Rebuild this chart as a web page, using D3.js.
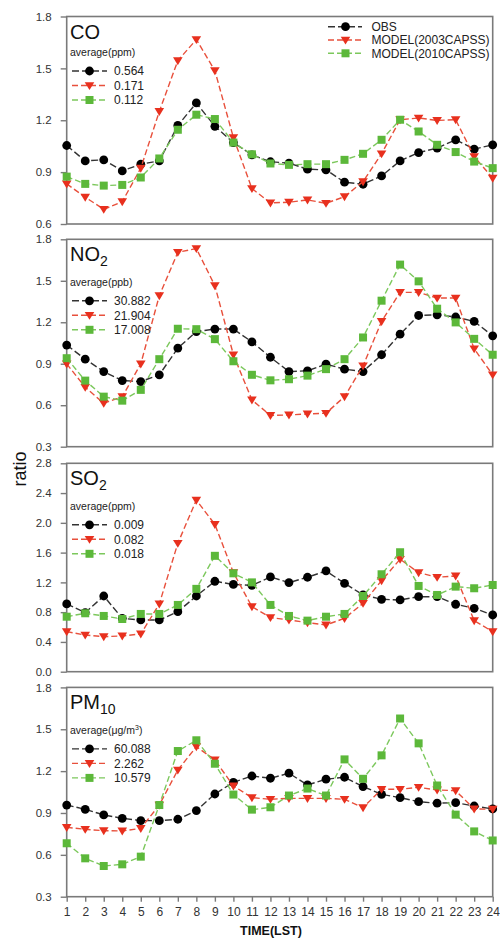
<!DOCTYPE html>
<html>
<head>
<meta charset="utf-8">
<script src="https://cdn.jsdelivr.net/npm/d3@7"></script>
<style>
  html, body { margin: 0; padding: 0; background: #fff; }
  svg { display: block; font-family: Arial, "Liberation Sans", sans-serif; }
</style>
</head>
<body>
<svg id="chart" width="500" height="946"></svg>
<script>
// Hour of day (local standard time)
const hours = d3.range(1, 25);
const xTickLabels = hours.map(String);

// Series names shown in the shared legend
const seriesNames = ["OBS", "MODEL(2003CAPSS)", "MODEL(2010CAPSS)"];

// CO ratios
const coObs  = [1.054,0.965,0.971,0.907,0.946,0.965,1.170,1.300,1.165,1.071,1.000,0.960,0.952,0.917,0.913,0.842,0.830,0.878,0.965,1.013,1.039,1.087,1.033,1.058];
const co2003 = [0.832,0.755,0.685,0.729,0.923,1.251,1.545,1.667,1.487,1.100,0.805,0.722,0.726,0.739,0.720,0.758,0.845,1.006,1.203,1.213,1.199,1.203,0.990,0.865];
const co2010 = [0.874,0.832,0.822,0.826,0.869,0.979,1.145,1.232,1.207,1.071,1.003,0.950,0.942,0.946,0.946,0.971,1.006,1.087,1.203,1.135,1.058,1.016,0.961,0.923];
const coAvg  = ["0.564", "0.171", "0.112"];

// NO2 ratios
const no2Obs  = [1.035,0.933,0.843,0.778,0.771,0.820,1.013,1.133,1.151,1.151,1.058,0.947,0.843,0.849,0.897,0.861,0.843,0.965,1.114,1.249,1.254,1.238,1.206,1.102];
const no22003 = [0.899,0.730,0.614,0.662,0.899,1.392,1.706,1.733,1.465,0.965,0.638,0.526,0.530,0.537,0.542,0.662,0.885,1.206,1.416,1.416,1.375,1.375,1.008,0.820];
const no22010 = [0.940,0.778,0.662,0.633,0.711,0.933,1.153,1.150,1.078,0.918,0.820,0.780,0.788,0.814,0.861,0.933,1.090,1.356,1.617,1.496,1.298,1.199,1.080,0.965];
const no2Avg  = ["30.882", "21.904", "17.008"];

// SO2 ratios
const so2Obs  = [0.910,0.793,1.017,0.717,0.695,0.695,0.806,1.017,1.215,1.172,1.160,1.273,1.197,1.269,1.354,1.188,1.031,0.973,0.964,1.008,1.008,0.906,0.852,0.762];
const so22003 = [0.538,0.493,0.470,0.480,0.507,0.910,1.726,2.305,1.980,1.330,0.874,0.728,0.695,0.659,0.628,0.717,0.919,1.223,1.511,1.331,1.269,1.286,0.686,0.538];
const so22010 = [0.739,0.785,0.749,0.708,0.776,0.776,0.897,1.113,1.557,1.322,1.200,0.897,0.749,0.686,0.739,0.776,1.017,1.309,1.605,1.152,1.031,1.143,1.121,1.165];
const so2Avg  = ["0.009", "0.082", "0.018"];

// PM10 ratios
const pmObs  = [0.957,0.926,0.886,0.862,0.845,0.845,0.855,0.917,1.036,1.120,1.165,1.149,1.185,1.101,1.142,1.156,1.089,1.034,1.010,0.981,0.970,0.974,0.950,0.929];
const pm2003 = [0.797,0.783,0.773,0.771,0.790,0.957,1.208,1.375,1.280,1.094,1.010,0.998,1.005,1.005,1.005,0.998,0.938,1.070,1.070,1.084,1.065,1.060,0.929,0.927];
const pm2010 = [0.683,0.575,0.520,0.532,0.587,0.957,1.344,1.421,1.253,1.032,0.924,0.941,1.025,1.075,1.025,1.284,1.145,1.313,1.577,1.399,1.097,0.888,0.768,0.703];
const pmAvg  = ["60.088", "2.262", "10.579"];

// Y tick values per panel
const coTicks  = [0.6, 0.9, 1.2, 1.5, 1.8];
const no2Ticks = [0.3, 0.6, 0.9, 1.2, 1.5, 1.8];
const so2Ticks = [0.0, 0.4, 0.8, 1.2, 1.6, 2.0, 2.4, 2.8];
const pmTicks  = [0.3, 0.6, 0.9, 1.2, 1.5, 1.8];

const panels = [
  { main: "CO", sub: "",   unit: "average(ppm)", avg: coAvg,  series: [coObs, co2003, co2010],
    domain: [0.6, 1.8], ticks: coTicks,  fmt: ".1f", top: 16.5,  bottom: 224,   legendY: 39.5 },
  { main: "NO", sub: "2",  unit: "average(ppb)", avg: no2Avg, series: [no2Obs, no22003, no22010],
    domain: [0.3, 1.8], ticks: no2Ticks, fmt: ".1f", top: 239.3, bottom: 446.7, legendY: 46.5 },
  { main: "SO", sub: "2",  unit: "average(ppm)", avg: so2Avg, series: [so2Obs, so22003, so22010],
    domain: [0.0, 2.8], ticks: so2Ticks, fmt: ".1f", top: 463.3, bottom: 671.7, legendY: 46.5 },
  { main: "PM", sub: "10", unit: "average(\u03bcg/m", unitSup: "3", unitEnd: ")", avg: pmAvg, series: [pmObs, pm2003, pm2010],
    domain: [0.3, 1.8], ticks: pmTicks,  fmt: ".1f", top: 687.4, bottom: 896.7, legendY: 46.5 }
];

const styles = [
  { color: "#000000", line: "#333333", dash: "7,3", shape: "circle" },
  { color: "#e8301e", line: "#e8503c", dash: "6,3", shape: "triangle" },
  { color: "#5cb83a", line: "#7cc85c", dash: "6,3", shape: "square" }
];

const svg = d3.select("#chart");
const left = 66.7, right = 492.7;
const x = d3.scaleLinear().domain([1, 24]).range([left, right]);
const frameColor = "#7a7a7a";
const tickText = "#333";

function drawMarker(g, shape, cx, cy, color) {
  if (shape === "circle") {
    g.append("circle").attr("cx", cx).attr("cy", cy).attr("r", 4.4).attr("fill", color);
  } else if (shape === "triangle") {
    const s = 4.8;
    g.append("path")
      .attr("d", `M${cx - s},${cy - s * 0.7}L${cx + s},${cy - s * 0.7}L${cx},${cy + s * 0.95}Z`)
      .attr("fill", color);
  } else {
    g.append("rect").attr("x", cx - 4).attr("y", cy - 4).attr("width", 8).attr("height", 8).attr("fill", color);
  }
}

panels.forEach((p, pi) => {
  const y = d3.scaleLinear().domain(p.domain).range([p.bottom, p.top]);
  const g = svg.append("g");

  // frame
  g.append("rect")
    .attr("x", left).attr("y", p.top)
    .attr("width", right - left).attr("height", p.bottom - p.top)
    .attr("fill", "none").attr("stroke", frameColor).attr("stroke-width", 1.6);

  // y axis
  const yAxis = d3.axisLeft(y).tickValues(p.ticks).tickFormat(d3.format(p.fmt)).tickSize(6).tickPadding(9);
  const ya = g.append("g").attr("transform", `translate(${left},0)`).call(yAxis);
  ya.select(".domain").remove();
  ya.selectAll(".tick line").attr("stroke", frameColor).attr("stroke-width", 1.4);
  ya.selectAll(".tick text").attr("fill", tickText).style("font-size", "11.5px")
    .style("font-family", "Arial, 'Liberation Sans', sans-serif");

  // x axis on bottom panel only
  if (pi === panels.length - 1) {
    const xAxis = d3.axisBottom(x).tickValues(hours).tickFormat((d, i) => xTickLabels[i]).tickSize(5).tickPadding(6);
    const xa = g.append("g").attr("transform", `translate(0,${p.bottom})`).call(xAxis);
    xa.select(".domain").remove();
    xa.selectAll(".tick line").attr("stroke", frameColor).attr("stroke-width", 1.4);
    xa.selectAll(".tick text").attr("fill", tickText).style("font-size", "12px")
      .style("font-family", "Arial, 'Liberation Sans', sans-serif");
  }

  // series: line then markers
  p.series.forEach((vals, si) => {
    const st = styles[si];
    const line = d3.line().x((d, i) => x(hours[i])).y(d => y(d));
    g.append("path").datum(vals)
      .attr("d", line).attr("fill", "none")
      .attr("stroke", st.line).attr("stroke-width", 1.4)
      .attr("stroke-dasharray", st.dash);
    const mg = g.append("g");
    vals.forEach((v, i) => drawMarker(mg, st.shape, x(hours[i]), y(v), st.color));
  });

  // panel title with optional subscript
  const title = g.append("text").attr("x", 70).attr("y", p.top + 22)
    .attr("fill", "#111").style("font-size", "20px");
  title.append("tspan").text(p.main);
  if (p.sub) {
    title.append("tspan").attr("dy", 5).style("font-size", "14px").text(p.sub);
  }

  // unit line
  const unit = g.append("text").attr("x", 70).attr("y", p.top + p.legendY)
    .attr("fill", "#222").style("font-size", "10.5px");
  unit.append("tspan").text(p.unit);
  if (p.unitSup) {
    unit.append("tspan").attr("dy", -4).style("font-size", "7px").text(p.unitSup);
    unit.append("tspan").attr("dy", 4).text(p.unitEnd);
  }

  // averages legend
  p.avg.forEach((a, si) => {
    const st = styles[si];
    const ry = p.top + p.legendY + 15 + si * 14.5;
    g.append("line").attr("x1", 72).attr("x2", 107).attr("y1", ry).attr("y2", ry)
      .attr("stroke", st.line).attr("stroke-width", 1.4).attr("stroke-dasharray", st.dash);
    drawMarker(g, st.shape, 89.5, ry, st.color);
    g.append("text").attr("x", 114).attr("y", ry + 4.2)
      .attr("fill", "#222").style("font-size", "12px").text(a);
  });

  // series legend in the first panel
  if (pi === 0) {
    seriesNames.forEach((name, si) => {
      const st = styles[si];
      const ry = 26.7 + si * 13.3;
      g.append("line").attr("x1", 328).attr("x2", 362).attr("y1", ry).attr("y2", ry)
        .attr("stroke", st.line).attr("stroke-width", 1.4).attr("stroke-dasharray", st.dash);
      drawMarker(g, st.shape, 345.5, ry, st.color);
      g.append("text").attr("x", 371.5).attr("y", ry + 4.2)
        .attr("fill", "#222").style("font-size", "12px").text(name);
    });
  }
});

// axis titles
svg.append("text").attr("transform", "translate(26,469) rotate(-90)")
  .attr("text-anchor", "middle").attr("fill", "#111").style("font-size", "18px").text("ratio");
svg.append("text").attr("x", 271).attr("y", 935)
  .attr("text-anchor", "middle").attr("fill", "#111").style("font-size", "12.5px")
  .style("font-weight", "bold").text("TIME(LST)");
</script>
</body>
</html>
